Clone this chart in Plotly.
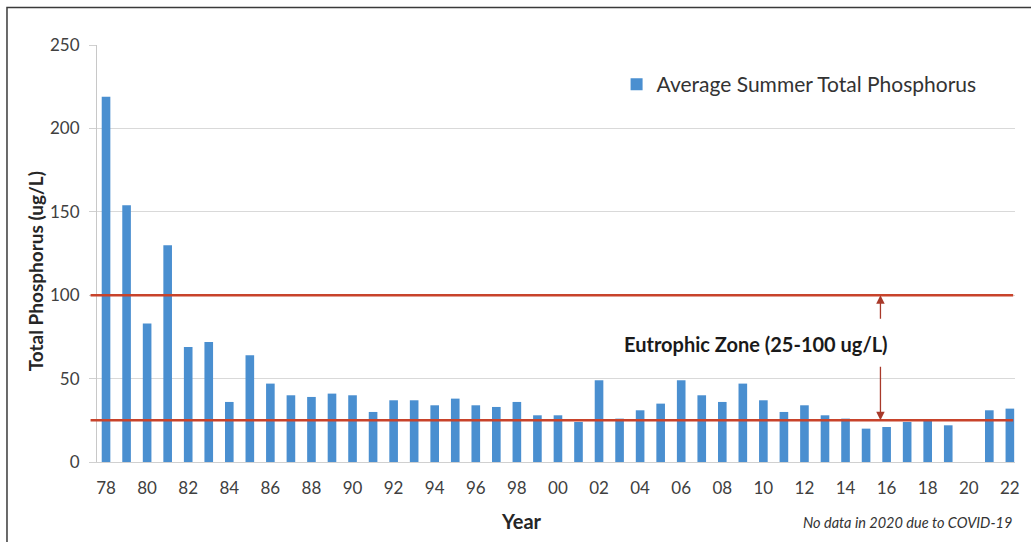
import plotly.graph_objects as go

# ---- data ----
years = list(range(1978, 2023))
phosphorus = [219, 154, 83, 130, 69, 72, 36, 64, 47, 40,
              39, 41, 40, 30, 37, 37, 34, 38, 34, 33,
              36, 28, 28, 24, 49, 26, 31, 35, 49, 40,
              36, 47, 37, 30, 34, 28, 26, 20, 21, 24,
              25, 22, None, 31, 32]
tick_years = list(range(1978, 2023, 2))
tick_labels = [f"{y % 100:02d}" for y in tick_years]
zone_low, zone_high = 25, 100
series_name = "Average Summer Total Phosphorus"

FONT = "Lato, 'Open Sans', sans-serif"
RED = "#C8432B"
BLUE = "#4A8FD0"

fig = go.Figure()
fig.add_trace(go.Bar(
    x=years, y=phosphorus, name=series_name,
    marker=dict(color=BLUE, line=dict(width=0)),
    width=0.42,
))

W, H = 1031, 542
ml, mr, mt, mb = 97, 11, 45, 80

fig.update_layout(
    width=W, height=H,
    margin=dict(l=ml, r=mr, t=mt, b=mb),
    paper_bgcolor="white", plot_bgcolor="white",
    font=dict(family=FONT, color="#404040"),
    showlegend=True,
    legend=dict(x=0.566, y=0.905, xanchor="left", yanchor="middle",
                font=dict(size=21, color="#333333"),
                bgcolor="rgba(0,0,0,0)", itemwidth=30),
    xaxis=dict(range=[1977.56, 2022.25], tickmode="array",
               tickvals=tick_years, ticktext=tick_labels,
               tickfont=dict(size=17, color="#404040"),
               showgrid=False, zeroline=False,
               showline=True, linecolor="#D0D0D0", linewidth=1,
               ticks="", ticklen=0, ticklabelstandoff=11),
    yaxis=dict(range=[0, 250], tickvals=[0, 50, 100, 150, 200, 250],
               tickfont=dict(size=17, color="#404040"),
               showgrid=True, gridcolor="#D9D9D9", gridwidth=1,
               zeroline=False, showline=True, linecolor="#C8C8C8",
               ticks="outside", ticklen=7, tickcolor="#D0D0D0",
               ticklabelstandoff=6),
)

# threshold lines
for v in (zone_high, zone_low):
    fig.add_shape(type="line", xref="paper", yref="y",
                  x0=-0.007, x1=0.998, y0=v, y1=v,
                  line=dict(color=RED, width=2.5))

def px_x(p):
    return (p - ml) / (W - ml - mr)

def px_y(p):
    return (H - mb - p) / (H - mt - mb)

# frame around chart
fig.add_shape(type="rect", xref="paper", yref="paper",
              x0=px_x(6.5), x1=px_x(1040), y0=px_y(560), y1=px_y(7.5),
              line=dict(color="#3a3a3a", width=1.5), fillcolor="rgba(0,0,0,0)",
              layer="above")

# arrows for eutrophic zone
arrow_x = 2015.7
fig.add_annotation(x=arrow_x, y=zone_high, ax=arrow_x, ay=85,
                   xref="x", yref="y", axref="x", ayref="y",
                   showarrow=True, arrowhead=2, arrowsize=1.3, arrowwidth=1.3,
                   arrowcolor="#A8392A", text="")
fig.add_annotation(x=arrow_x, y=zone_low, ax=arrow_x, ay=58,
                   xref="x", yref="y", axref="x", ayref="y",
                   showarrow=True, arrowhead=2, arrowsize=1.3, arrowwidth=1.3,
                   arrowcolor="#A8392A", text="")
fig.add_annotation(x=px_x(760), y=71, xref="paper", yref="y",
                   xanchor="center", yanchor="middle",
                   text="<b>Eutrophic Zone (25-100 ug/L)</b>", showarrow=False,
                   font=dict(size=20, color="#1a1a1a", family=FONT))

# axis titles and note
fig.add_annotation(x=px_x(35), y=px_y(271), xref="paper", yref="paper",
                   xanchor="center", yanchor="middle",
                   text="<b>Total Phosphorus (ug/L)</b>", showarrow=False,
                   textangle=-90, font=dict(size=19, color="#262626"))
fig.add_annotation(x=px_x(524), y=px_y(521), xref="paper", yref="paper",
                   xanchor="center", yanchor="middle",
                   text="<b>Year</b>", showarrow=False,
                   font=dict(size=20, color="#262626"))
fig.add_annotation(x=px_x(1019), y=px_y(522), xref="paper", yref="paper",
                   xanchor="right", yanchor="middle",
                   text="<i>No data in 2020 due to COVID-19</i>", showarrow=False,
                   font=dict(size=14.5, color="#333333"))

fig.write_html("out.html", config={"displayModeBar": False},
               post_script="document.body.style.margin='0';")
